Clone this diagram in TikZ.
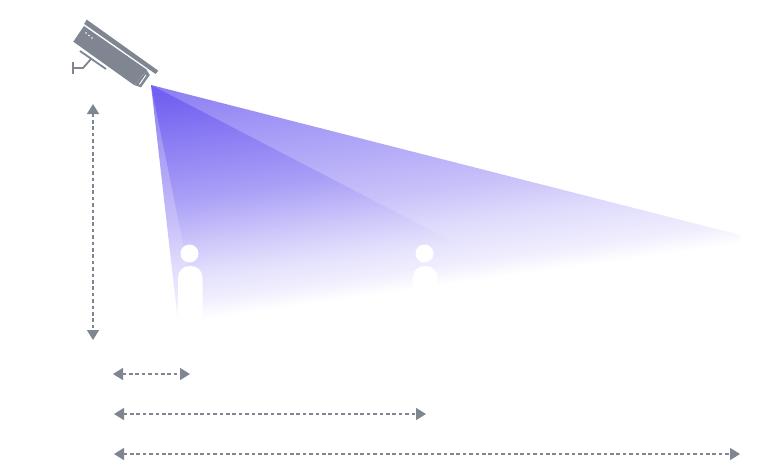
\documentclass[tikz,border=0pt]{standalone}
\usetikzlibrary{arrows.meta}
\definecolor{camgrey}{HTML}{7F8691}
\definecolor{beam}{HTML}{6A58F0}
\pgfdeclareverticalshading{outerbeam}{100bp}{
  color(0bp)=(white);
  color(42.41bp)=(white);
  color(43.62bp)=(beam!10!white);
  color(46.20bp)=(beam!22!white);
  color(48.48bp)=(beam!37!white);
  color(53.49bp)=(beam!60!white);
  color(57.59bp)=(beam!80!white);
  color(100bp)=(beam!80!white)}
\pgfdeclareverticalshading{innerbeam}{100bp}{
  color(0bp)=(white);
  color(42.41bp)=(white);
  color(43.62bp)=(beam!10!white);
  color(45.14bp)=(beam!18!white);
  color(47.12bp)=(beam!33!white);
  color(50bp)=(beam!57!white);
  color(56.23bp)=(beam!93!white);
  color(57.59bp)=(beam!97!white);
  color(100bp)=(beam!97!white)}
\tikzset{
  dim/.style={draw=camgrey,line width=1.4pt,dash pattern=on 3.6pt off 2.8pt,{Triangle[width=12pt,length=10pt]}-{Triangle[width=12pt,length=10pt]}},
  cam/.style={fill=camgrey,draw=none},
  camline/.style={draw=camgrey,line width=1.8pt}
}
\begin{document}
\begin{tikzpicture}[x=1pt,y=-1pt]
\useasboundingbox (0,0) rectangle (760,475);
% outer beam
\begin{scope}
\clip (151,85) -- (740,235) -- (740,243) -- (178,322) -- cycle;
\shade[shading=outerbeam,shading angle=8] (33,-236) rectangle (833,564);
\end{scope}
% inner beam
\begin{scope}
\clip (151,85) -- (490,261) -- (440,285) -- (199,322) -- cycle;
\shade[shading=innerbeam,shading angle=8] (33,-236) rectangle (833,564);
\end{scope}
% people
\fill[white] (189.5,253.5) circle (9);
\fill[white] (178,322) [rounded corners=11.5pt] -- (178,266) -- (202.5,266) [sharp corners] -- (202.5,322) -- cycle;
\fill[white] (424.5,253.5) circle (9);
\fill[white] (413,300) [rounded corners=11.5pt] -- (413,266) -- (437.5,266) [sharp corners] -- (437.5,300) -- cycle;
% camera
\fill[cam] (84,26) -- (147.3,70) -- (134,85) -- (73.3,41.7) -- cycle;
\fill[cam] (86.7,19.6) -- (158.3,70.7) -- (155.6,74) -- (84.2,24) -- cycle;
\fill[cam] (147,70.5) -- (149.8,75) -- (141,87.3) -- (134,85) -- cycle;
\draw[white,line width=.9pt] (146,75) -- (139.3,84.5);
\fill[white] (86,33) circle (.9) (89,35.5) circle (.9) (92,38) circle (.9);
\coordinate (bracketA) at (80,51);
\coordinate (bracketB) at (106,69);
\draw[camline] (bracketA) -- (bracketB);
\coordinate (armA) at (91,59);
\coordinate (armB) at (83,68);
\coordinate (armC) at (73,68);
\draw[camline] (armA) -- (armB) -- (armC);
\coordinate (footA) at (73,62);
\coordinate (footB) at (73,74);
\draw[camline] (footA) -- (footB);
% dimensions
\coordinate (v1) at (93,104); \coordinate (v2) at (93,340);
\coordinate (a1) at (113,374); \coordinate (a2) at (190,374);
\coordinate (b1) at (114,414); \coordinate (b2) at (426,414);
\coordinate (c1) at (114,454); \coordinate (c2) at (740,454);
\draw[dim] (v1) -- (v2);
\draw[dim] (a1) -- (a2);
\draw[dim] (b1) -- (b2);
\draw[dim] (c1) -- (c2);
\end{tikzpicture}
\end{document}
